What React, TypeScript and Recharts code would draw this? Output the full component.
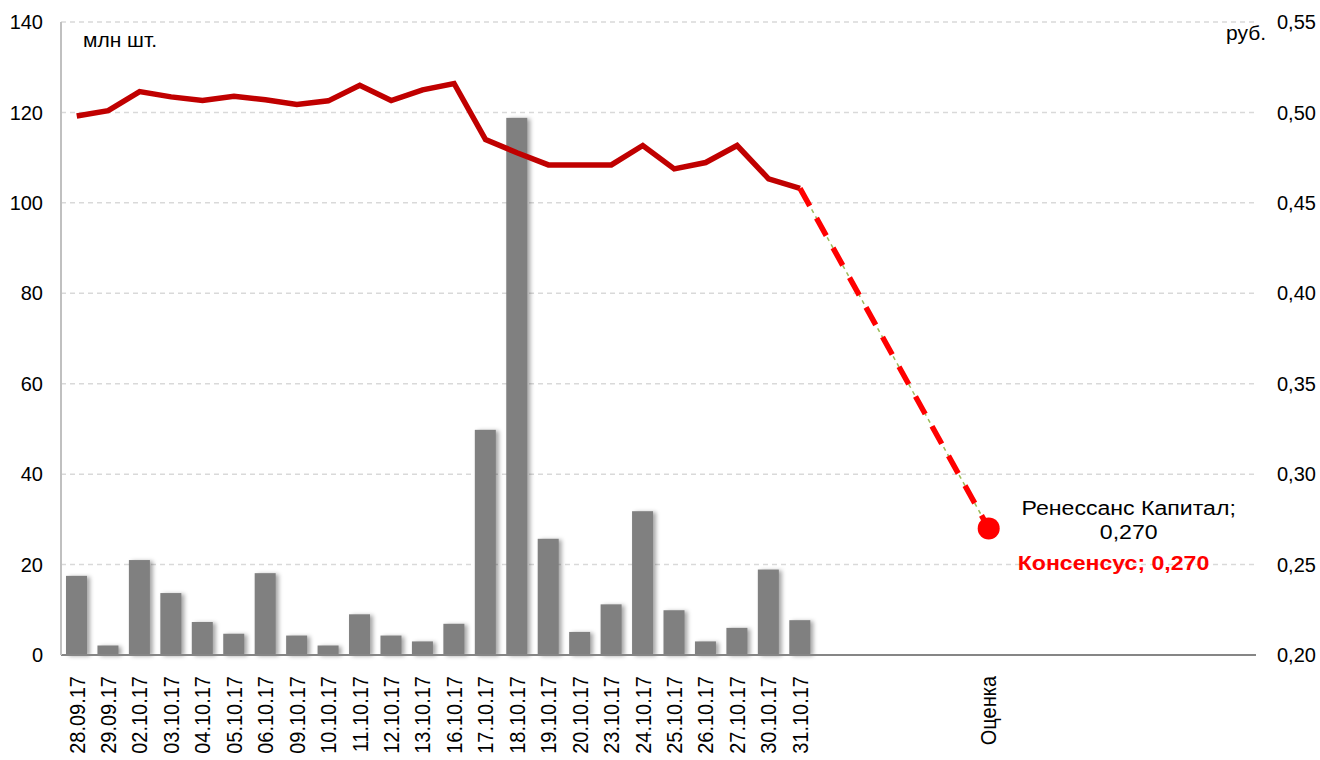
import { ComposedChart, Bar, Line, XAxis, YAxis, CartesianGrid } from 'recharts';

const categories = [
  '28.09.17', '29.09.17', '02.10.17', '03.10.17', '04.10.17', '05.10.17', '06.10.17', '09.10.17',
  '10.10.17', '11.10.17', '12.10.17', '13.10.17', '16.10.17', '17.10.17', '18.10.17', '19.10.17',
  '20.10.17', '23.10.17', '24.10.17', '25.10.17', '26.10.17', '27.10.17', '30.10.17', '31.10.17',
  '', '', '', '', '', 'Оценка', '', '', '', '', '', '', '', '',
];

// объём торгов, млн шт.
const volumes = [
  17.5, 2.1, 21.0, 13.7, 7.3, 4.7, 18.1, 4.3, 2.1, 9.0, 4.3, 3.0, 6.9, 49.8, 118.8, 25.7,
  5.1, 11.2, 31.8, 9.9, 3.0, 6.0, 18.9, 7.7,
];

// цена, руб.
const prices = [
  0.498, 0.501, 0.5115, 0.5086, 0.5066, 0.509, 0.507, 0.5044, 0.5064, 0.515, 0.5066, 0.5125,
  0.516, 0.485, 0.4777, 0.471, 0.471, 0.471, 0.4817, 0.4688, 0.4723, 0.4817, 0.4633, 0.458,
];

const estimate = 0.27;
const estimateLabel = 'Ренессанс Капитал;';
const consensusLabel = 'Консенсус; 0,270';

const leftTicks = [0, 20, 40, 60, 80, 100, 120, 140];
const rightTicks = [0.2, 0.25, 0.3, 0.35, 0.4, 0.45, 0.5, 0.55];

const data = categories.map((cat, i) => ({
  cat,
  vol: volumes[i] ?? null,
  price: prices[i] ?? null,
  fc: i === prices.length - 1 ? prices[i] : cat === 'Оценка' ? estimate : null,
}));

const FONT = '"Liberation Sans", Arial, sans-serif';
const comma = (v: number, d: number) => v.toFixed(d).replace('.', ',');

const XTick = (props: any) => {
  const { x, y, payload } = props;
  if (!payload.value) return <g />;
  return (
    <text
      transform={`translate(${x},${y + 13}) rotate(-90) scale(1,1.08)`}
      textAnchor="end"
      dominantBaseline="central"
      fontSize={20}
      fontFamily={FONT}
      fill="#000"
    >
      {payload.value}
    </text>
  );
};

const ShadowBar = (props: any) => {
  const { x, y, width, height, fill } = props;
  if (!height || height <= 0) return <g />;
  return (
    <rect
      x={x}
      y={y}
      width={width}
      height={height}
      fill={fill}
      style={{ filter: 'drop-shadow(3px 1px 2px rgba(0,0,0,0.35))' }}
    />
  );
};

const EstDot = (props: any) => {
  const { cx, cy, payload, index } = props;
  if (payload.cat !== 'Оценка') return <g key={index} />;
  return <circle key={index} cx={cx} cy={cy} r={11} fill="#ff0000" />;
};

const EstLabel = (props: any) => {
  const { x, y, index } = props;
  if (categories[index] !== 'Оценка') return <g key={index} />;
  return (
    <g key={index} fontFamily={FONT} fontSize={21}>
      <g transform={`translate(${x + 140},${y - 21}) scale(1.1,1)`}>
        <text textAnchor="middle" dominantBaseline="central" fill="#000">
          {estimateLabel}
        </text>
      </g>
      <g transform={`translate(${x + 140},${y + 3}) scale(1.1,1)`}>
        <text textAnchor="middle" dominantBaseline="central" fill="#000">
          {comma(estimate, 3)}
        </text>
      </g>
      <g transform={`translate(${x + 29},${y + 34}) scale(1.1,1)`}>
        <text textAnchor="start" dominantBaseline="central" fill="#ff0000" fontWeight="bold">
          {consensusLabel}
        </text>
      </g>
    </g>
  );
};

const UnitLeft = (props: any) => {
  const { viewBox } = props;
  return (
    <text x={viewBox.x + viewBox.width + 22} y={viewBox.y + 17} dominantBaseline="central" fontSize={21} fontFamily={FONT} fill="#000">
      млн шт.
    </text>
  );
};

const UnitRight = (props: any) => {
  const { viewBox } = props;
  return (
    <text x={viewBox.x + 10} y={viewBox.y + 10} textAnchor="end" dominantBaseline="central" fontSize={21} fontFamily={FONT} fill="#000">
      руб.
    </text>
  );
};

export default function App() {
  return (
    <div style={{ position: 'absolute', left: 0, top: 0, width: 1320, height: 760, background: '#fff' }}>
      <ComposedChart width={1320} height={760} data={data} margin={{ top: 22, right: 0, bottom: 0, left: 0 }}>
        <CartesianGrid yAxisId="v" vertical={false} stroke="#d9d9d9" strokeWidth={1.5} strokeDasharray="5 4" />
        <XAxis
          dataKey="cat"
          interval={0}
          height={105}
          tick={<XTick />}
          tickLine={false}
          axisLine={{ stroke: '#868686', strokeWidth: 2 }}
        />
        <YAxis
          yAxisId="v"
          width={61}
          domain={[0, 140]}
          ticks={leftTicks}
          tickLine={false}
          tickMargin={12}
          axisLine={{ stroke: '#c0c0c0', strokeWidth: 2 }}
          tick={{ fontSize: 20, fontFamily: FONT, fill: '#000' }}
          label={<UnitLeft />}
        />
        <YAxis
          yAxisId="p"
          orientation="right"
          width={64}
          domain={[0.2, 0.55]}
          ticks={rightTicks}
          tickFormatter={(v: number) => comma(v, 2)}
          tickLine={false}
          tickMargin={15}
          axisLine={false}
          tick={{ fontSize: 20, fontFamily: FONT, fill: '#000', textAnchor: 'start' }}
          label={<UnitRight />}
        />
        <Bar yAxisId="v" dataKey="vol" fill="#808080" barSize={21} shape={<ShadowBar />} isAnimationActive={false} />
        <Line yAxisId="p" dataKey="price" stroke="#c00000" strokeWidth={5.5} dot={false} isAnimationActive={false} />
        <Line
          yAxisId="p"
          dataKey="fc"
          stroke="#9bbb59"
          strokeWidth={1.5}
          strokeDasharray="4 4"
          connectNulls
          dot={false}
          isAnimationActive={false}
        />
        <Line
          yAxisId="p"
          dataKey="fc"
          stroke="#ff0000"
          strokeWidth={5.5}
          strokeDasharray="20 14"
          connectNulls
          dot={<EstDot />}
          label={<EstLabel />}
          isAnimationActive={false}
        />
      </ComposedChart>
    </div>
  );
}
